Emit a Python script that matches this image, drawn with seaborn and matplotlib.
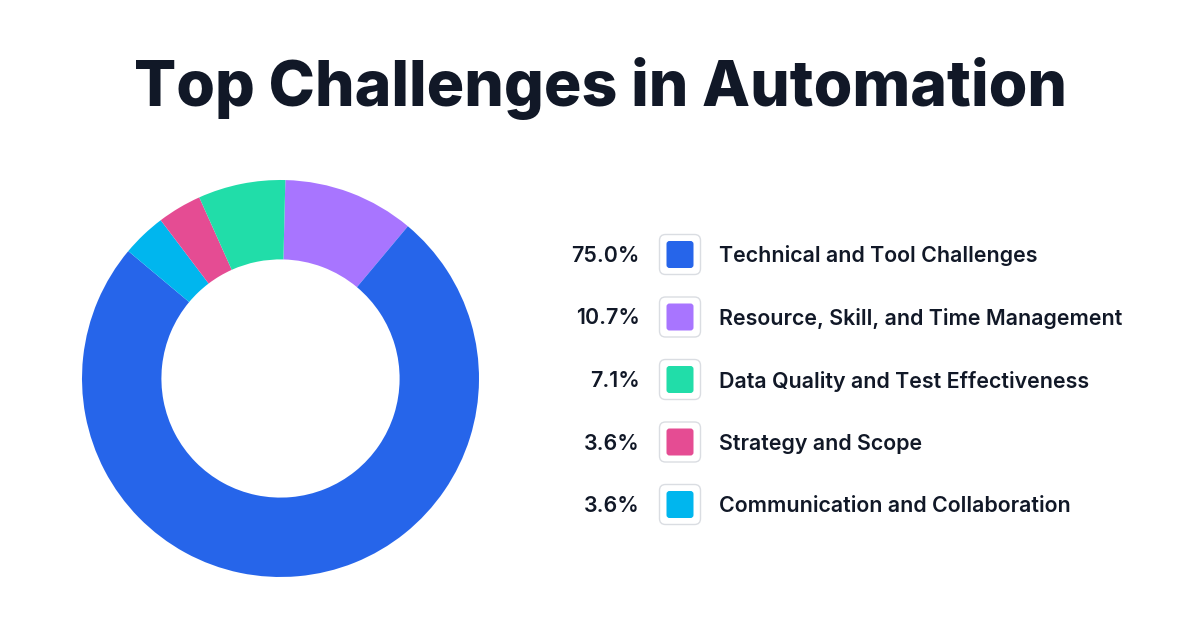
import matplotlib
matplotlib.use("Agg")
import matplotlib.pyplot as plt
import seaborn as sns
from matplotlib.patches import FancyBboxPatch

# ------------------- Data ---------------------
categories = [
    "Technical and Tool Challenges",
    "Resource, Skill, and Time Management",
    "Data Quality and Test Effectiveness",
    "Strategy and Scope",
    "Communication and Collaboration",
]
shares = [75.0, 10.7, 7.1, 3.6, 3.6]
colors = ["#2665EA", "#A875FF", "#21DDA9", "#E54C93", "#00B6EE"]

# order of the wedges going clockwise from the top
wedge_order = [1, 0, 4, 3, 2]

sns.set_theme(style="white")
plt.rcParams["font.family"] = ["Inter", "DejaVu Sans"]
text_color = "#111827"

fig = plt.figure(figsize=(12, 6.3), dpi=100)
fig.patch.set_facecolor("white")

# ------------------- Donut ---------------------
W, H = 1200, 630
cx, cy, r = 280.5, 378.5, 198.5
ax = fig.add_axes([(cx - r) / W, (H - cy - r) / H, 2 * r / W, 2 * r / H])
ax.pie(
    [shares[i] for i in wedge_order],
    colors=[colors[i] for i in wedge_order],
    startangle=88.6,
    counterclock=False,
    radius=1,
    wedgeprops=dict(width=0.40, edgecolor="none", linewidth=0),
)
ax.set_xlim(-1, 1)
ax.set_ylim(-1, 1)
ax.set_aspect("equal")
ax.axis("off")

# ------------------- Title + legend (pixel overlay) ---------------------
ov = fig.add_axes([0, 0, 1, 1], facecolor="none")
ov.set_xlim(0, W)
ov.set_ylim(H, 0)
ov.axis("off")

ov.text(600, 88, "Top Challenges in Automation", ha="center", va="center",
        fontsize=45, fontweight="heavy", color=text_color)

row_y0, row_gap = 254.5, 62.5
for i, (name, val, col) in enumerate(zip(categories, shares, colors)):
    y = row_y0 + i * row_gap
    ov.text(640, y + 1.5, f"{val:.1f}%", ha="right", va="center",
            fontsize=15.4, fontweight="semibold", color=text_color)
    ov.add_patch(FancyBboxPatch((659.5 + 6, y - 20 + 6), 41 - 12, 40 - 12,
                                boxstyle="round,pad=6", facecolor="white",
                                edgecolor="#DADDE2", linewidth=1.0))
    ov.add_patch(FancyBboxPatch((666.5 + 3, y - 13.5 + 3), 27 - 6, 27 - 6,
                                boxstyle="round,pad=3", facecolor=col,
                                edgecolor="none"))
    ov.text(719, y + 1.5, name, ha="left", va="center",
            fontsize=15.4, fontweight="semibold", color=text_color)

fig.savefig("out.png", dpi=100, facecolor="white")
